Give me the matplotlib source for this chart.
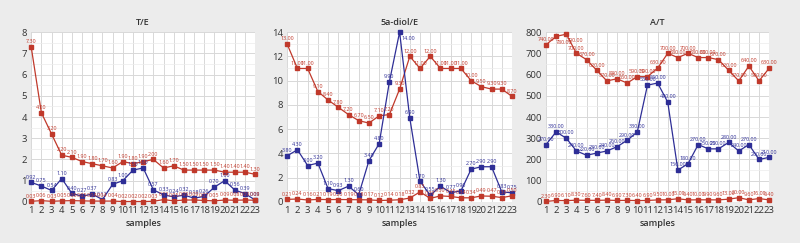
import matplotlib
matplotlib.use("Agg")
import matplotlib.pyplot as plt
from matplotlib.ticker import MultipleLocator

plt.rcParams['font.family'] = ['Open Sans', 'DejaVu Sans']

samples = list(range(1, 24))

# T/E
te_red_top = [7.30, 4.20, 3.20, 2.20, 2.10, 1.90, 1.80, 1.70, 1.60, 1.90, 1.80, 1.90,
              2.00, 1.60, 1.70, 1.50, 1.50, 1.50, 1.50, 1.40, 1.40, 1.40, 1.30]
te_blue = [0.92, 0.75, 0.54, 1.10, 0.40, 0.27, 0.37, 0.11, 0.83, 1.00, 1.50, 1.60,
           0.57, 0.33, 0.24, 0.32, 0.18, 0.26, 0.70, 1.00, 0.56, 0.39, 0.09]
te_red_low = [0.03, 0.06, 0.03, 0.05, 0.06, 0.05, 0.04, 0.04, 0.04, 0.02, 0.02, 0.02,
              0.03, 0.11, 0.05, 0.09, 0.09, 0.07, 0.05, 0.09, 0.08, 0.09, 0.08]

# 5a-diol/E
de_red_top = [13.00, 11.00, 11.00, 9.10, 8.40, 7.80, 7.20, 6.70, 6.50, 7.10, 7.20, 9.30,
              12.00, 11.00, 12.00, 11.00, 11.00, 11.00, 10.00, 9.50, 9.30, 9.30, 8.70]
de_blue = [3.80, 4.30, 3.00, 3.20, 1.10, 0.93, 1.30, 0.60, 3.40, 4.80, 9.90, 14.00,
           6.90, 1.70, 0.55, 1.30, 0.77, 0.90, 2.70, 2.90, 2.90, 0.83, 0.75]
de_red_low = [0.21, 0.24, 0.16, 0.21, 0.19, 0.20, 0.19, 0.18, 0.17, 0.12, 0.14, 0.18,
              0.32, 0.83, 0.29, 0.50, 0.45, 0.34, 0.34, 0.49, 0.47, 0.36, 0.50]

# A/T
at_red_top = [740, 780, 790, 700, 670, 620, 570, 580, 560, 590, 590, 630,
              700, 680, 700, 680, 680, 670, 620, 570, 640, 570, 630]
at_blue = [270, 330, 300, 240, 220, 230, 240, 260, 290, 330, 550, 560,
           470, 150, 180, 270, 250, 250, 280, 240, 270, 200, 210]
at_red_low = [2.30, 6.90, 6.10, 8.30, 7.60, 7.40, 8.40, 6.90, 7.30, 6.40, 6.90, 9.50,
              10.00, 15.00, 9.40, 10.00, 9.90, 9.60, 13.00, 20.00, 9.60, 16.00, 9.40]

titles = ["T/E", "5a-diol/E", "A/T"]
series = [(te_red_top, te_blue, te_red_low),
          (de_red_top, de_blue, de_red_low),
          (at_red_top, at_blue, at_red_low)]
ylims = [(0, 8), (0, 14), (0, 800)]
ymajor = [1, 2, 100]
lefts = [0.039, 0.359, 0.6825]
widths = [0.280, 0.281, 0.279]

RED = "#c0392b"
BLUE = "#2e2e96"
BG = "#ececec"

fig = plt.figure(figsize=(8, 2.43), dpi=100, facecolor=BG)

for i in range(3):
    ax = fig.add_axes([lefts[i], 0.169, widths[i], 0.699])
    ax.set_facecolor("white")
    red_top, blue, red_low = series[i]
    ytop = ylims[i][1]
    for vals, col in [(red_top, RED), (blue, BLUE), (red_low, RED)]:
        ax.plot(samples, vals, color=col, lw=0.9, marker="s", ms=2.2,
                clip_on=False, zorder=3)
        for x, v in zip(samples, vals):
            if v >= ytop * 0.97:
                off, va = (6, -3), "top"
            else:
                off, va = (0, 2.0), "bottom"
            ax.annotate(f"{v:.2f}", (x, v), xytext=off, textcoords="offset points",
                        ha="center", va=va, fontsize=3.9, color=col, zorder=4,
                        annotation_clip=False)
    ax.set_xlim(1, 23)
    ax.set_ylim(*ylims[i])
    ax.set_xticks(samples)
    ax.yaxis.set_major_locator(MultipleLocator(ymajor[i]))
    ax.yaxis.set_minor_locator(MultipleLocator(ymajor[i] / 2))
    ax.grid(True, which="major", color="#d8d8d8", lw=0.7)
    ax.grid(True, which="minor", axis="y", color="#ececec", lw=0.5)
    ax.set_axisbelow(True)
    for s in ax.spines.values():
        s.set_visible(False)
    ax.tick_params(axis="both", which="both", length=0, labelsize=6.8,
                   colors="#333333", pad=3)
    ax.set_title(titles[i], fontsize=6.5, color="#333333", pad=5, fontweight="semibold")
    ax.set_xlabel("samples", fontsize=6.5, color="#333333", labelpad=3,
                  fontweight="semibold")

fig.savefig("out.png", dpi=100, facecolor=BG)
